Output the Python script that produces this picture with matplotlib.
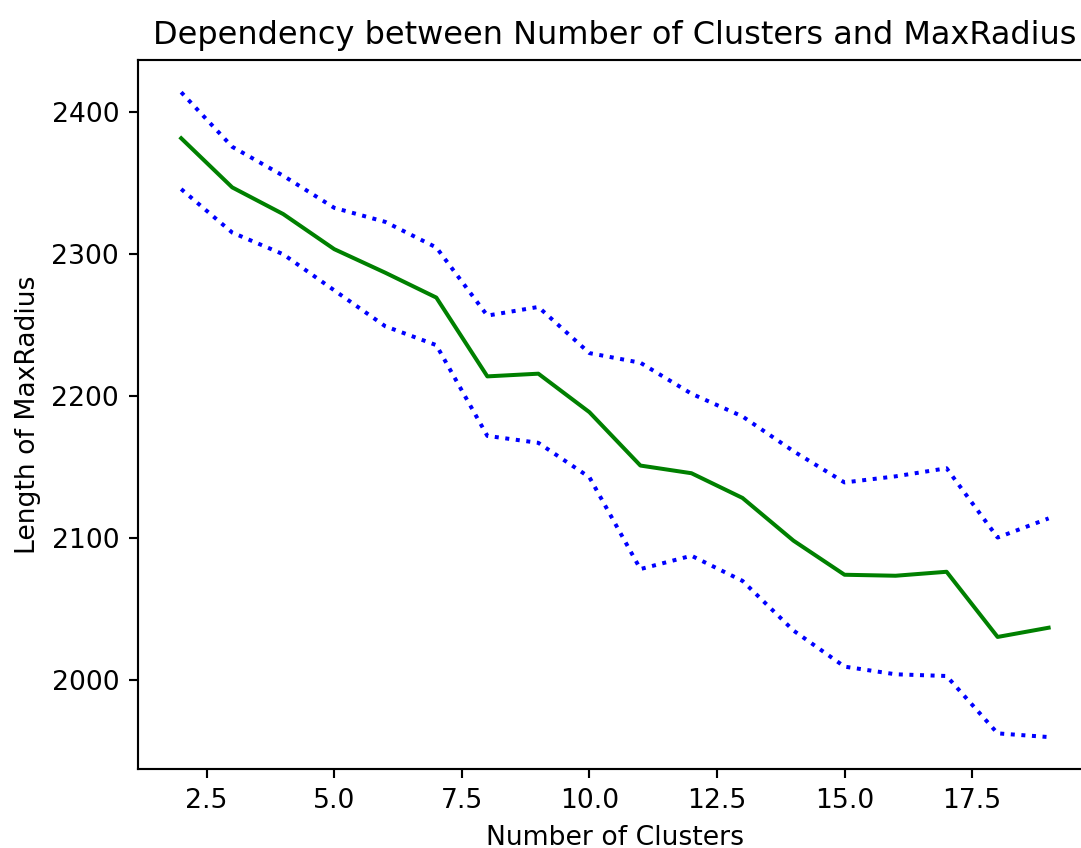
"""Dependency between number of clusters and MaxRadius (mean with +/- band)."""

import matplotlib
matplotlib.use("Agg")
import matplotlib.pyplot as plt

clusters = list(range(2, 20))
mean_radius = [2381.7, 2347.1, 2328.3, 2303.6, 2287.0, 2269.5, 2214.0, 2215.9, 2188.8,
               2151.2, 2145.8, 2128.4, 2098.3, 2074.3, 2073.6, 2076.4, 2030.5, 2037.0]
upper_radius = [2414.1, 2375.7, 2355.3, 2332.7, 2322.8, 2304.8, 2256.8, 2262.9, 2230.4,
                2223.6, 2201.8, 2185.8, 2161.3, 2139.3, 2143.6, 2149.3, 2100.5, 2114.0]
lower_radius = [2345.9, 2315.3, 2300.0, 2274.6, 2249.3, 2236.0, 2172.1, 2167.2, 2143.0,
                2078.3, 2087.7, 2070.0, 2035.0, 2009.6, 2004.2, 2003.0, 1962.6, 1960.0]

W, H, DPI = 1081, 848, 192
fig = plt.figure(figsize=(W / DPI, H / DPI), dpi=DPI)
# axes placed in pixels; right spine falls just past the image edge as in the reference
left, right, top, bottom = 137.8, 1092.0, 60.0, 769.3
ax = fig.add_axes([left / W, (H - bottom) / H, (right - left) / W, (bottom - top) / H])

ax.plot(clusters, mean_radius, "g-")
ax.plot(clusters, upper_radius, "b:")
ax.plot(clusters, lower_radius, "b:")

ax.set_title("Dependency between Number of Clusters and MaxRadius")
ax.set_xlabel("Number of Clusters")
ax.set_ylabel("Length of MaxRadius")

fig.savefig("out.png", dpi=DPI)
